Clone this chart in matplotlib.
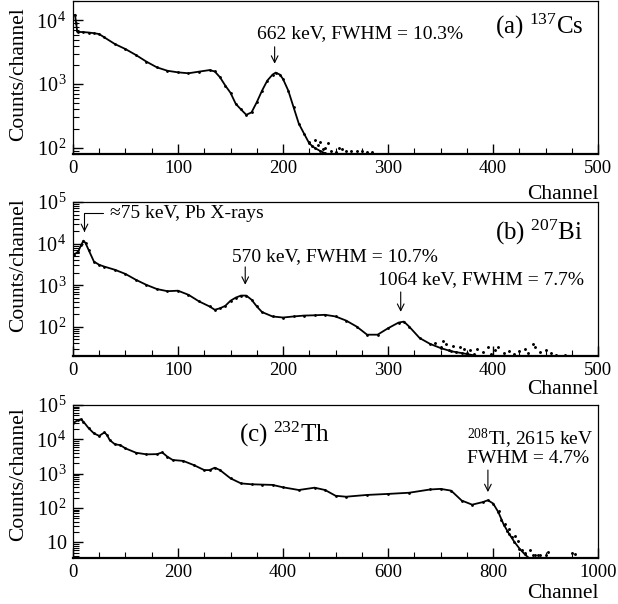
import numpy as np
import matplotlib
matplotlib.use("Agg")
import matplotlib.pyplot as plt
from matplotlib.ticker import MultipleLocator, LogLocator, FuncFormatter, NullFormatter

plt.rcParams["font.family"] = ["Liberation Serif", "DejaVu Serif"]
plt.rcParams["mathtext.fontset"] = "custom"
plt.rcParams["mathtext.rm"] = "Liberation Serif"
plt.rcParams["mathtext.it"] = "Liberation Serif:italic"

# (a) 137Cs spectrum
cs_ch = [2, 3, 4, 5, 10, 15, 20, 25, 30, 40, 50, 60, 70, 80, 90, 100, 110, 120,
         130, 135, 140, 145, 150, 155, 160, 165, 170, 175, 180, 185, 190, 193,
         197, 200, 205, 210, 215, 220, 225, 230, 235, 240]
cs_cnt = [12200, 9200, 6850, 6600, 6550, 6450, 6300, 6100, 5400, 4250, 3550,
          2860, 2250, 1830, 1620, 1530, 1480, 1570, 1660, 1580, 1280, 950, 730,
          490, 400, 330, 360, 520, 790, 1135, 1410, 1515, 1410, 1200, 790, 435,
          240, 167, 117, 100, 90, 82]
cs_tail_ch = [225, 228, 230, 233, 235, 238, 240, 243, 246, 250, 253, 256, 260,
              265, 270, 275, 280, 285]
cs_tail_cnt = [125, 105, 135, 110, 125, 95, 100, 118, 90, 85, 100, 95, 90, 88,
               90, 88, 85, 85]

# (b) 207Bi spectrum
bi_ch = [1, 5, 8, 10, 12, 15, 20, 25, 30, 40, 50, 60, 70, 80, 90, 100, 110,
         120, 130, 135, 140, 145, 150, 155, 160, 165, 170, 175, 180, 190, 200,
         210, 220, 230, 240, 250, 260, 270, 280, 290, 300, 310, 315, 320, 330,
         340, 350, 360, 370, 385]
bi_cnt = [5400, 6450, 9400, 11800, 10300, 7000, 3700, 3100, 2800, 2350, 1870,
          1350, 1020, 810, 720, 740, 590, 410, 310, 258, 280, 320, 425, 505,
          565, 565, 450, 310, 227, 178, 168, 178, 187, 190, 195, 178, 142, 102,
          65, 65, 93, 127, 134, 102, 54, 39, 31, 26, 23.5, 20]
bi_tail_ch = [345, 350, 352, 355, 358, 362, 365, 368, 372, 375, 378, 382, 385,
              390, 395, 398, 402, 405, 410, 415, 420, 425, 430, 433, 438, 440,
              445, 450, 455, 460, 468]
bi_tail_cnt = [42, 32, 45, 38, 28, 35, 25, 33, 30, 24, 28, 22, 30, 25, 32, 22,
               28, 33, 24, 26, 22, 27, 30, 24, 38, 33, 25, 28, 24, 21, 21]

# (c) 232Th spectrum
th_ch = [0, 10, 15, 20, 30, 40, 50, 60, 65, 70, 80, 90, 100, 120, 140, 160,
         170, 180, 190, 210, 230, 250, 260, 270, 280, 300, 320, 340, 360, 380,
         400, 430, 460, 480, 500, 520, 560, 600, 640, 680, 700, 720, 740, 760,
         780, 790, 800, 810, 820, 830, 840, 850, 860, 868]
th_cnt = [29500, 36500, 38000, 32700, 21000, 14900, 12600, 15900, 13300, 9500,
          7150, 6800, 5450, 4070, 3650, 3700, 4150, 3100, 2500, 2350, 1780,
          1270, 1270, 1490, 1270, 730, 520, 490, 480, 470, 400, 334, 390, 334,
          227, 213, 240, 257, 278, 346, 360, 320, 165, 125, 148, 168, 135, 75,
          33, 18, 10.5, 6.6, 4.5, 3.5]
th_tail_ch = [812, 815, 822, 826, 830, 835, 842, 848, 855, 860, 870, 875, 880,
              885, 890, 900, 905, 950, 955]
th_tail_cnt = [80, 45, 35, 22, 25, 14, 15, 11, 6, 5, 6, 4.3, 4.3, 4.3, 4.3,
               4.3, 5.2, 5, 4.5]


def log_fmt(v, pos):
    e = int(round(np.log10(v)))
    if e == 1:
        return r"$\mathregular{10}$"
    return r"$\mathregular{10^{\,%d}}$" % e


def style_axis(ax, xmax, major, minor, ylim, label_y):
    ax.set_yscale("log")
    ax.set_xlim(0, xmax)
    ax.set_ylim(*ylim)
    ax.xaxis.set_major_locator(MultipleLocator(major))
    ax.xaxis.set_minor_locator(MultipleLocator(minor))
    ax.yaxis.set_major_locator(LogLocator(base=10, numticks=12))
    ax.yaxis.set_minor_locator(LogLocator(base=10, subs=np.arange(2, 10),
                                          numticks=12))
    ax.yaxis.set_major_formatter(FuncFormatter(log_fmt))
    ax.yaxis.set_minor_formatter(NullFormatter())
    ax.tick_params(which="both", direction="in", top=False, right=False,
                   pad=4)
    ax.tick_params(axis="x", labelsize=13.5)
    ax.tick_params(axis="y", labelsize=14.5)
    ax.tick_params(which="major", length=7, width=1)
    ax.tick_params(which="minor", length=4, width=0.8)
    ax.spines["bottom"].set_linewidth(1.6)
    for s in ["left", "top", "right"]:
        ax.spines[s].set_linewidth(0.9)
    ax.set_xlabel("Channel", fontsize=15.5, loc="right")
    ax.xaxis.set_label_coords(1.0, label_y)
    ax.set_ylabel("Counts/channel", fontsize=15.5)


def draw(ax, ch, cnt, tch, tcnt):
    ax.plot(ch, cnt, color="black", lw=1.3)
    ax.plot(ch, cnt, ".", color="black", ms=2)
    ax.plot(tch, tcnt, ".", color="black", ms=2.2)


fig = plt.figure(figsize=(6.18, 6.04), dpi=100)
ax_a = fig.add_axes([0.118, 0.745, 0.850, 0.253])
ax_b = fig.add_axes([0.118, 0.4106, 0.850, 0.255])
ax_c = fig.add_axes([0.118, 0.0762, 0.850, 0.2533])

arrow = dict(arrowstyle="->", lw=0.8, color="black", mutation_scale=12,
             shrinkA=0, shrinkB=0)

# panel (a)
draw(ax_a, cs_ch, cs_cnt, cs_tail_ch, cs_tail_cnt)
style_axis(ax_a, 500, 100, 25, (80, 2e4), -0.2)
ax_a.yaxis.set_label_coords(-0.086, 0.52)
ax_a.text(0.350, 0.760, "662 keV, FWHM = 10.3%", transform=ax_a.transAxes,
          fontsize=14, va="baseline")
ax_a.annotate("", xy=(192, 2090), xytext=(192, 3850), arrowprops=arrow)
ax_a.text(0.972, 0.786, r"(a) $\mathregular{^{137}}$Cs",
          transform=ax_a.transAxes, fontsize=18, ha="right", va="baseline")

# panel (b)
draw(ax_b, bi_ch, bi_cnt, bi_tail_ch, bi_tail_cnt)
style_axis(ax_b, 500, 100, 25, (20, 1e5), -0.155)
ax_b.yaxis.set_label_coords(-0.086, 0.59)
ax_b.annotate("\u224875 keV, Pb X-rays", xy=(11, 19000),
              xytext=(0.0705, 0.896), textcoords="axes fraction",
              fontsize=14, va="baseline",
              arrowprops=dict(arrowstyle="->", lw=0.8, color="black",
                              mutation_scale=12, shrinkA=3, shrinkB=0,
                              relpos=(0, 0.55),
                              connectionstyle="angle,angleA=180,angleB=90,rad=0"))
ax_b.text(0.303, 0.617, "570 keV, FWHM = 10.7%", transform=ax_b.transAxes,
          fontsize=14, va="baseline")
ax_b.annotate("", xy=(164, 1030), xytext=(164, 2760), arrowprops=arrow)
ax_b.text(0.581, 0.468, "1064 keV, FWHM = 7.7%", transform=ax_b.transAxes,
          fontsize=14, va="baseline")
ax_b.annotate("", xy=(312, 230), xytext=(312, 690), arrowprops=arrow)
ax_b.text(0.970, 0.753, r"(b) $\mathregular{^{207}}$Bi",
          transform=ax_b.transAxes, fontsize=18, ha="right", va="baseline")

# panel (c)
draw(ax_c, th_ch, th_cnt, th_tail_ch, th_tail_cnt)
style_axis(ax_c, 1000, 200, 50, (3.5, 1e5), -0.17)
ax_c.yaxis.set_label_coords(-0.086, 0.55)
ax_c.text(0.316, 0.758, r"(c) $\mathregular{^{232}}$Th",
          transform=ax_c.transAxes, fontsize=18, va="baseline")
ax_c.text(0.750, 0.739, r"$\mathregular{^{208}}$Tl, 2615 keV",
          transform=ax_c.transAxes, fontsize=14, va="baseline")
ax_c.text(0.750, 0.621, "FWHM = 4.7%", transform=ax_c.transAxes,
          fontsize=14, va="baseline")
ax_c.annotate("", xy=(790, 290), xytext=(790, 1275), arrowprops=arrow)

fig.savefig("out.png", dpi=100)
